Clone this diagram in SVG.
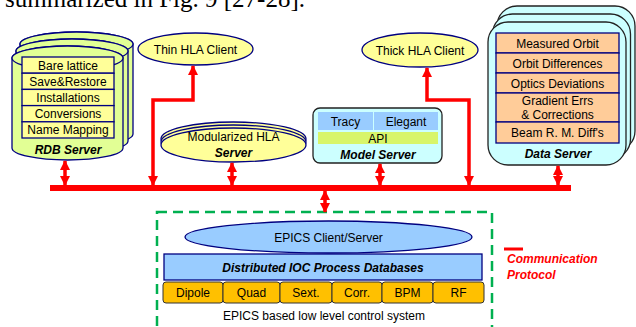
<svg xmlns="http://www.w3.org/2000/svg" width="636" height="327" viewBox="0 0 636 327">
<defs>
<marker id="ah" viewBox="0 0 10 10" refX="9" refY="5" markerWidth="3" markerHeight="3" orient="auto-start-reverse" markerUnits="strokeWidth">
<path d="M0,0 L10,5 L0,10 Z" fill="#ff0000"/>
</marker>
<style>
text{font-family:"Liberation Sans",Arial,sans-serif;font-size:12px;fill:#000;text-anchor:middle}
.bi{font-weight:bold;font-style:italic}
.cyl{fill:#e2ff95;stroke:#000080;stroke-width:1.3}
.row{fill:#ffff99;stroke:#000080;stroke-width:1.3}
.orow{fill:#ffcc99;stroke:#000080;stroke-width:1.3}
.ell{fill:#ffff99;stroke:#000080;stroke-width:1.3}
.blue{fill:#99ccff;stroke:#000080;stroke-width:1.3}
.dev{fill:#ffc000;stroke:#333;stroke-width:1}
.cyan{fill:#ccffff;stroke:#222;stroke-width:1.3}
.conn{stroke:#ff0000;stroke-width:3.5;fill:none;marker-start:url(#ah);marker-end:url(#ah)}
</style>
</defs>

<text x="305" y="7" style="font-family:'Liberation Serif',serif;font-size:25px;text-anchor:end">summarized in Fig. 9 [27-28].</text>

<g id="rdb-server">
<path class="cyl" d="M20,44 A56.5,12 0 0 1 133,44 L133,134 A56.5,12 0 0 1 20,134 Z"/>
<ellipse class="cyl" cx="76.5" cy="44" rx="56.5" ry="12"/>
<path class="cyl" d="M16,51 A56,12 0 0 1 128,51 L128,141 A56,12 0 0 1 16,141 Z"/>
<ellipse class="cyl" cx="72" cy="51" rx="56" ry="12"/>
<path class="cyl" d="M12,58 A55.5,12 0 0 1 123,58 L123,148 A55.5,12 0 0 1 12,148 Z"/>
<ellipse class="cyl" cx="67.5" cy="58" rx="55.5" ry="12"/>
<rect class="row" x="22" y="57" width="92" height="16.2"/>
<rect class="row" x="22" y="73.2" width="92" height="16.2"/>
<rect class="row" x="22" y="89.4" width="92" height="16.2"/>
<rect class="row" x="22" y="105.6" width="92" height="16.2"/>
<rect class="row" x="22" y="121.8" width="92" height="16.2"/>
<text x="68" y="69.5">Bare lattice</text>
<text x="68" y="85.7">Save&amp;Restore</text>
<text x="68" y="101.9">Installations</text>
<text x="68" y="118.1">Conversions</text>
<text x="68" y="134.3">Name Mapping</text>
<text class="bi" x="68" y="154">RDB Server</text>
</g>

<g id="thin-hla-client">
<ellipse class="ell" cx="195.5" cy="49" rx="57.5" ry="16"/>
<text x="195.5" y="53.5">Thin HLA Client</text>
</g>

<g id="modularized-hla-server">
<ellipse class="ell" cx="233.5" cy="139" rx="72.5" ry="17"/>
<ellipse class="ell" cx="233.5" cy="142" rx="72.5" ry="17"/>
<ellipse class="ell" cx="233.5" cy="145" rx="72.5" ry="17"/>
<text x="233.5" y="141">Modularized HLA</text>
<text class="bi" x="233.5" y="157">Server</text>
</g>

<g id="thick-hla-client">
<ellipse class="ell" cx="420" cy="50" rx="58" ry="17"/>
<text x="420" y="54.5">Thick HLA Client</text>
</g>

<g id="model-server">
<rect class="cyan" x="313" y="108" width="129" height="55" rx="7"/>
<rect x="318" y="112" width="55" height="18" fill="#99ccff"/>
<rect x="374" y="112" width="64" height="18" fill="#99ccff"/>
<rect x="318" y="132" width="120" height="12" fill="#d8f56a"/>
<text x="345.5" y="125.5">Tracy</text>
<text x="406" y="125.5">Elegant</text>
<text x="378" y="142.5">API</text>
<text class="bi" x="378" y="159">Model Server</text>
</g>

<g id="data-server">
<rect class="cyan" x="497" y="6" width="138" height="145" rx="20"/>
<rect class="cyan" x="492.5" y="14" width="138" height="145" rx="20"/>
<rect class="cyan" x="488" y="22" width="138" height="143" rx="20"/>
<rect class="orow" x="496" y="33" width="123" height="20"/>
<rect class="orow" x="496" y="53" width="123" height="20"/>
<rect class="orow" x="496" y="73" width="123" height="20"/>
<rect class="orow" x="496" y="93" width="123" height="29"/>
<rect class="orow" x="496" y="122" width="123" height="21"/>
<text x="557.5" y="47.5">Measured Orbit</text>
<text x="557.5" y="67.5">Orbit Differences</text>
<text x="557.5" y="87.5">Optics Deviations</text>
<text x="557.5" y="105">Gradient Errs</text>
<text x="557.5" y="119">&amp; Corrections</text>
<text x="557.5" y="137">Beam R. M. Diff's</text>
<text class="bi" x="558" y="158">Data Server</text>
</g>

<g id="epics">
<rect x="157" y="212" width="335" height="130" fill="none" stroke="#00b050" stroke-width="2.5" stroke-dasharray="10,6"/>
<ellipse class="blue" cx="328.5" cy="237" rx="143.5" ry="16"/>
<text x="328.5" y="241.5">EPICS Client/Server</text>
<rect class="blue" x="164" y="254" width="318" height="26"/>
<text class="bi" x="323" y="271.5">Distributed IOC Process Databases</text>
<rect class="dev" x="163" y="282" width="60" height="21" rx="3"/>
<rect class="dev" x="223" y="282" width="57" height="21" rx="3"/>
<rect class="dev" x="280" y="282" width="52" height="21" rx="3"/>
<rect class="dev" x="332" y="282" width="50" height="21" rx="3"/>
<rect class="dev" x="382" y="282" width="51" height="21" rx="3"/>
<rect class="dev" x="433" y="282" width="51" height="21" rx="3"/>
<text x="193" y="297">Dipole</text>
<text x="251.5" y="297">Quad</text>
<text x="306" y="297">Sext.</text>
<text x="357" y="297">Corr.</text>
<text x="407.5" y="297">BPM</text>
<text x="458.5" y="297">RF</text>
<text x="324" y="320">EPICS based low level control system</text>
</g>

<g id="legend">
<line x1="504" y1="249" x2="523" y2="249" stroke="#ff0000" stroke-width="3"/>
<text class="bi" x="507" y="263" style="text-anchor:start;fill:#ff0000">Communication</text>
<text class="bi" x="507" y="279" style="text-anchor:start;fill:#ff0000">Protocol</text>
</g>

<g id="connectors">
<rect x="50" y="185" width="521" height="6" fill="#ff0000"/>
<path class="conn" d="M153,185 L153,100 L193,100 L193,66"/>
<path class="conn" d="M469,185 L469,100 L427,100 L427,68"/>
<line class="conn" x1="65" y1="161" x2="65" y2="185"/>
<line class="conn" x1="232" y1="163" x2="232" y2="185"/>
<line class="conn" x1="380" y1="164" x2="380" y2="185"/>
<line class="conn" x1="558" y1="166" x2="558" y2="185"/>
<line class="conn" x1="325" y1="191" x2="325" y2="212"/>
</g>
</svg>
